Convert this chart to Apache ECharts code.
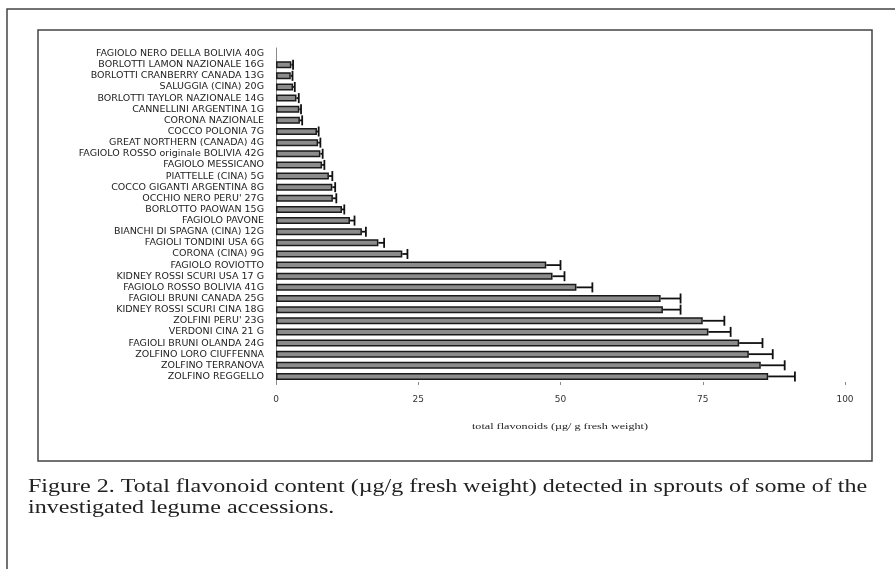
<!DOCTYPE html>
<html>
<head>
<meta charset="utf-8">
<title>Total flavonoid content</title>
<script src="https://cdn.jsdelivr.net/npm/echarts@6/dist/echarts.min.js"></script>
<style>
  html, body { margin: 0; padding: 0; background: #fff; }
  #chart { width: 895px; height: 569px; }
</style>
</head>
<body>
<div id="chart"></div>
<script>
// accessions, top to bottom as in the figure
const categories = [
  'FAGIOLO NERO DELLA BOLIVIA 40G',
  'BORLOTTI LAMON NAZIONALE 16G',
  'BORLOTTI CRANBERRY CANADA 13G',
  'SALUGGIA (CINA) 20G',
  'BORLOTTI TAYLOR NAZIONALE 14G',
  'CANNELLINI ARGENTINA 1G',
  'CORONA NAZIONALE',
  'COCCO POLONIA 7G',
  'GREAT NORTHERN (CANADA) 4G',
  'FAGIOLO ROSSO originale BOLIVIA 42G',
  'FAGIOLO MESSICANO',
  'PIATTELLE (CINA) 5G',
  'COCCO GIGANTI ARGENTINA 8G',
  "OCCHIO NERO PERU' 27G",
  'BORLOTTO PAOWAN 15G',
  'FAGIOLO PAVONE',
  'BIANCHI DI SPAGNA (CINA) 12G',
  'FAGIOLI TONDINI USA 6G',
  'CORONA (CINA) 9G',
  'FAGIOLO ROVIOTTO',
  'KIDNEY ROSSI SCURI USA 17 G',
  'FAGIOLO ROSSO BOLIVIA 41G',
  'FAGIOLI BRUNI CANADA 25G',
  'KIDNEY ROSSI SCURI CINA 18G',
  "ZOLFINI PERU' 23G",
  'VERDONI CINA 21 G',
  'FAGIOLI BRUNI OLANDA 24G',
  'ZOLFINO LORO CIUFFENNA',
  'ZOLFINO TERRANOVA',
  'ZOLFINO REGGELLO'
]

// total flavonoids, µg/g fresh weight
const flavonoids = [
  null, 2.7, 2.6, 3.0, 3.6, 4.1, 4.2, 7.2, 7.4, 7.8,
  8.1, 9.3, 9.9, 10.0, 11.6, 13.0, 15.1, 18.0, 22.2, 47.5,
  48.6, 52.8, 67.6, 68.0, 75.0, 76.0, 81.4, 83.1, 85.2, 86.5
]

// standard deviation (only the upper whisker is drawn)
const errors = [
  null, 0.3, 0.3, 0.3, 0.4, 0.3, 0.4, 0.3, 0.4, 0.4,
  0.4, 0.6, 0.5, 0.6, 0.4, 0.8, 0.7, 1.0, 0.9, 2.5,
  2.1, 2.8, 3.5, 3.1, 3.8, 3.9, 4.1, 4.2, 4.2, 4.7
]

const xTicks = [0, 25, 50, 75, 100]
const xTitle = 'total flavonoids (µg/ g fresh weight)'
const caption = 'Figure 2. Total flavonoid content (µg/g fresh weight) detected in sprouts of some of the\ninvestigated legume accessions.'

const chart = echarts.init(document.getElementById('chart'))

const errorData = categories.map((c, i) => [i, flavonoids[i], errors[i]])

chart.setOption({
  animation: false,
  grid: {
    left: 276,
    right: 50,
    top: 48,
    bottom: 187
  },
  xAxis: {
    type: 'value',
    min: xTicks[0],
    max: xTicks[xTicks.length - 1],
    interval: xTicks[1] - xTicks[0],
    axisLine: { lineStyle: { color: '#8a8a8a', width: 1 } },
    axisTick: { show: true, length: 3, lineStyle: { color: '#8a8a8a' } },
    axisLabel: {
      fontFamily: 'DejaVu Sans',
      fontSize: 9,
      color: '#333',
      margin: 13
    },
    splitLine: { show: false }
  },
  yAxis: {
    type: 'category',
    data: categories,
    inverse: true,
    axisLine: { lineStyle: { color: '#8a8a8a', width: 1 } },
    axisTick: { length: 3, lineStyle: { color: '#8a8a8a' } },
    axisLabel: {
      fontFamily: 'DejaVu Sans',
      fontSize: 9.5,
      color: '#222',
      margin: 12,
      interval: 0
    }
  },
  series: [{
    type: 'bar',
    data: flavonoids,
    barWidth: 7,
    itemStyle: {
      color: '#8c8c8c',
      borderColor: '#1a1a1a',
      borderWidth: 1.5
    }
  }, {
    // error bars
    type: 'custom',
    data: errorData,
    z: 3,
    renderItem: function (params, api) {
      const v = api.value(1)
      const e = api.value(2)
      if (v == null || isNaN(v)) return
      const start = api.coord([v, api.value(0)])
      const end = api.coord([v + e, api.value(0)])
      const half = 5
      return {
        type: 'group',
        children: [{
          type: 'line',
          shape: { x1: start[0], y1: start[1], x2: end[0], y2: end[1] },
          style: { stroke: '#111', lineWidth: 1.8 }
        }, {
          type: 'line',
          shape: { x1: end[0], y1: end[1] - half, x2: end[0], y2: end[1] + half },
          style: { stroke: '#111', lineWidth: 1.8 }
        }]
      }
    }
  }],
  graphic: [
    // outer page frame
    { type: 'polyline', shape: { points: [[7, 569], [7, 9], [895, 9]] },
      style: { stroke: '#444', lineWidth: 1.5, fill: null } },
    // chart box
    { type: 'rect', shape: { x: 38, y: 30, width: 834, height: 431 },
      style: { stroke: '#444', lineWidth: 1.5, fill: null }, z: -1 },
    // x axis title (the original is set wide)
    { type: 'text', x: 560, y: 427, scaleX: 1.35,
      style: {
        text: xTitle,
        font: '9px "Liberation Serif"',
        align: 'center',
        verticalAlign: 'middle',
        fill: '#222'
      } },
    // caption
    { type: 'text', x: 28, y: 477, scaleX: 1.265,
      style: {
        text: caption,
        font: '19px "Liberation Serif"',
        lineHeight: 21,
        verticalAlign: 'top',
        fill: '#222'
      } }
  ]
})
</script>
</body>
</html>
